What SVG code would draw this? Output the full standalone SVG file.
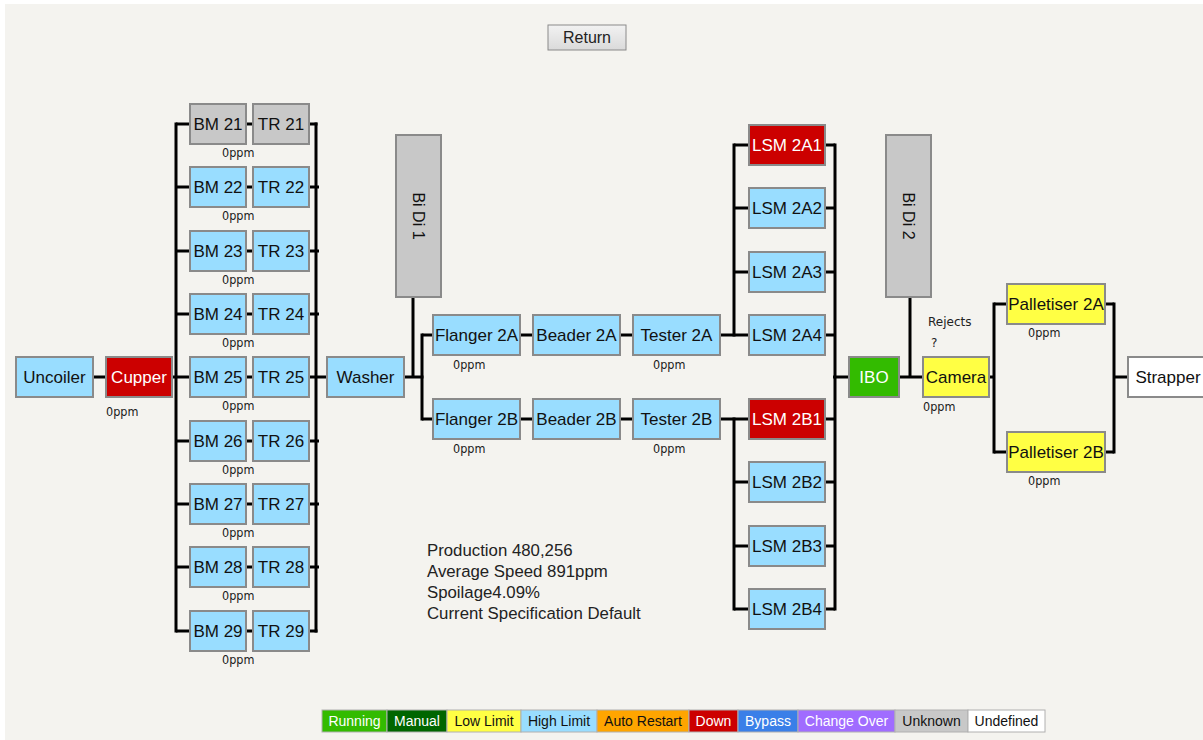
<svg xmlns="http://www.w3.org/2000/svg" width="1203" height="740" viewBox="0 0 1203 740">
  <defs>
    <linearGradient id="btnGrad" x1="0" y1="0" x2="0" y2="1">
      <stop offset="0" stop-color="#f2f2f2"/>
      <stop offset="1" stop-color="#dadada"/>
    </linearGradient>
    <style>
      .node rect { stroke: #8a8a8a; stroke-width: 2; }
      .hl { fill: #99ddff; }
      .down { fill: #cc0000; }
      .run { fill: #33bb00; }
      .low { fill: #ffff44; }
      .unk { fill: #c8c8c8; }
      .undef { fill: #ffffff; }
      .lbl { font-family: "Liberation Sans", Arial, sans-serif; font-size: 17px; fill: #111; text-anchor: middle; }
      .lblw { fill: #ffffff; }
      .ppm { font-family: "DejaVu Sans Condensed", "DejaVu Sans", sans-serif; font-size: 12.5px; fill: #1a1a1a; }
      .note { font-family: "DejaVu Sans", Verdana, sans-serif; font-size: 12px; fill: #222; }
      .info { font-family: "Liberation Sans", Arial, sans-serif; font-size: 16.8px; fill: #222; }
      .conn line { stroke: #000; stroke-width: 3; fill: none; }
      .leg rect { stroke: #b0b0b0; stroke-width: 1; }
      .leg text { font-family: "Liberation Sans", Arial, sans-serif; font-size: 14px; text-anchor: middle; }
    </style>
  </defs>

  <!-- page -->
  <rect x="0" y="0" width="1203" height="740" fill="#ffffff"/>
  <rect x="5" y="4" width="1198" height="736" fill="#f4f3ef"/>

  <!-- return button -->
  <g id="btn-return">
    <rect x="548" y="25" width="78" height="25" fill="url(#btnGrad)" stroke="#8a8a8a" stroke-width="1"/>
    <text x="587" y="43" class="info" text-anchor="middle" style="font-size:16px">Return</text>
  </g>

  <!-- connectors -->
  <g id="connectors" class="conn">
    <line x1="93" y1="377" x2="106" y2="377"/>
    <line x1="172" y1="377" x2="177" y2="377"/>
    <!-- body maker / trimmer buses -->
    <line x1="176" y1="122.5" x2="176" y2="632.5"/>
    <line x1="316" y1="122.5" x2="316" y2="632.5"/>
    <line x1="176" y1="124" x2="190" y2="124"/>
    <line x1="176" y1="187" x2="190" y2="187"/>
    <line x1="176" y1="251" x2="190" y2="251"/>
    <line x1="176" y1="314" x2="190" y2="314"/>
    <line x1="176" y1="377" x2="190" y2="377"/>
    <line x1="176" y1="441" x2="190" y2="441"/>
    <line x1="176" y1="504" x2="190" y2="504"/>
    <line x1="176" y1="567" x2="190" y2="567"/>
    <line x1="176" y1="631" x2="190" y2="631"/>
    <line x1="246" y1="124" x2="253" y2="124"/>
    <line x1="246" y1="187" x2="253" y2="187"/>
    <line x1="246" y1="251" x2="253" y2="251"/>
    <line x1="246" y1="314" x2="253" y2="314"/>
    <line x1="246" y1="377" x2="253" y2="377"/>
    <line x1="246" y1="441" x2="253" y2="441"/>
    <line x1="246" y1="504" x2="253" y2="504"/>
    <line x1="246" y1="567" x2="253" y2="567"/>
    <line x1="246" y1="631" x2="253" y2="631"/>
    <line x1="309" y1="124" x2="317.5" y2="124"/>
    <line x1="309" y1="187" x2="319" y2="187"/>
    <line x1="309" y1="251" x2="319" y2="251"/>
    <line x1="309" y1="314" x2="319" y2="314"/>
    <line x1="309" y1="377" x2="327" y2="377"/>
    <line x1="309" y1="441" x2="319" y2="441"/>
    <line x1="309" y1="504" x2="319" y2="504"/>
    <line x1="309" y1="567" x2="319" y2="567"/>
    <line x1="309" y1="631" x2="317.5" y2="631"/>
    <!-- washer / flangers -->
    <line x1="404" y1="377" x2="423.5" y2="377"/>
    <line x1="413" y1="297" x2="413" y2="377"/>
    <line x1="422" y1="333.5" x2="422" y2="420.5"/>
    <line x1="422" y1="335" x2="433" y2="335"/>
    <line x1="422" y1="419" x2="433" y2="419"/>
    <line x1="520" y1="335" x2="533" y2="335"/>
    <line x1="620" y1="335" x2="633" y2="335"/>
    <line x1="520" y1="419" x2="533" y2="419"/>
    <line x1="620" y1="419" x2="633" y2="419"/>
    <!-- LSM buses -->
    <line x1="720" y1="335" x2="749" y2="335"/>
    <line x1="734" y1="143.5" x2="734" y2="336.5"/>
    <line x1="734" y1="145" x2="749" y2="145"/>
    <line x1="734" y1="208" x2="749" y2="208"/>
    <line x1="734" y1="272" x2="749" y2="272"/>
    <line x1="720" y1="419" x2="749" y2="419"/>
    <line x1="734" y1="417.5" x2="734" y2="610.5"/>
    <line x1="734" y1="482" x2="749" y2="482"/>
    <line x1="734" y1="546" x2="749" y2="546"/>
    <line x1="734" y1="609" x2="749" y2="609"/>
    <line x1="835" y1="143.5" x2="835" y2="610.5"/>
    <line x1="825" y1="145" x2="835" y2="145"/>
    <line x1="825" y1="208" x2="835" y2="208"/>
    <line x1="825" y1="272" x2="835" y2="272"/>
    <line x1="825" y1="335" x2="835" y2="335"/>
    <line x1="825" y1="419" x2="835" y2="419"/>
    <line x1="825" y1="482" x2="835" y2="482"/>
    <line x1="825" y1="546" x2="835" y2="546"/>
    <line x1="825" y1="609" x2="835" y2="609"/>
    <line x1="833" y1="377" x2="849" y2="377"/>
    <!-- IBO / camera / palletisers -->
    <line x1="899" y1="377" x2="923" y2="377"/>
    <line x1="910" y1="297" x2="910" y2="377"/>
    <line x1="989" y1="377" x2="994" y2="377"/>
    <line x1="994" y1="302.5" x2="994" y2="453.5"/>
    <line x1="994" y1="304" x2="1007" y2="304"/>
    <line x1="994" y1="452" x2="1007" y2="452"/>
    <line x1="1105" y1="304" x2="1114" y2="304"/>
    <line x1="1105" y1="452" x2="1114" y2="452"/>
    <line x1="1114" y1="302.5" x2="1114" y2="453.5"/>
    <line x1="1114" y1="377" x2="1128" y2="377"/>
  </g>

  <!-- front end -->
  <g id="uncoiler" class="node"><rect x="16" y="357" width="77" height="40" class="hl"/><text x="54.5" y="383" class="lbl">Uncoiler</text></g>
  <g id="cupper" class="node"><rect x="106" y="357" width="66" height="40" class="down"/><text x="139" y="383" class="lbl lblw">Cupper</text><text x="106" y="416" class="ppm">0ppm</text></g>

  <!-- body makers and trimmers -->
  <g id="bm21" class="node"><rect x="190" y="104" width="56" height="40" class="unk"/><text x="218" y="130" class="lbl">BM 21</text></g>
  <g id="tr21" class="node"><rect x="253" y="104" width="56" height="40" class="unk"/><text x="281" y="130" class="lbl">TR 21</text><text x="222" y="157" class="ppm">0ppm</text></g>
  <g id="bm22" class="node"><rect x="190" y="167" width="56" height="40" class="hl"/><text x="218" y="193" class="lbl">BM 22</text></g>
  <g id="tr22" class="node"><rect x="253" y="167" width="56" height="40" class="hl"/><text x="281" y="193" class="lbl">TR 22</text><text x="222" y="220" class="ppm">0ppm</text></g>
  <g id="bm23" class="node"><rect x="190" y="231" width="56" height="40" class="hl"/><text x="218" y="257" class="lbl">BM 23</text></g>
  <g id="tr23" class="node"><rect x="253" y="231" width="56" height="40" class="hl"/><text x="281" y="257" class="lbl">TR 23</text><text x="222" y="284" class="ppm">0ppm</text></g>
  <g id="bm24" class="node"><rect x="190" y="294" width="56" height="40" class="hl"/><text x="218" y="320" class="lbl">BM 24</text></g>
  <g id="tr24" class="node"><rect x="253" y="294" width="56" height="40" class="hl"/><text x="281" y="320" class="lbl">TR 24</text><text x="222" y="347" class="ppm">0ppm</text></g>
  <g id="bm25" class="node"><rect x="190" y="357" width="56" height="40" class="hl"/><text x="218" y="383" class="lbl">BM 25</text></g>
  <g id="tr25" class="node"><rect x="253" y="357" width="56" height="40" class="hl"/><text x="281" y="383" class="lbl">TR 25</text><text x="222" y="410" class="ppm">0ppm</text></g>
  <g id="bm26" class="node"><rect x="190" y="421" width="56" height="40" class="hl"/><text x="218" y="447" class="lbl">BM 26</text></g>
  <g id="tr26" class="node"><rect x="253" y="421" width="56" height="40" class="hl"/><text x="281" y="447" class="lbl">TR 26</text><text x="222" y="474" class="ppm">0ppm</text></g>
  <g id="bm27" class="node"><rect x="190" y="484" width="56" height="40" class="hl"/><text x="218" y="510" class="lbl">BM 27</text></g>
  <g id="tr27" class="node"><rect x="253" y="484" width="56" height="40" class="hl"/><text x="281" y="510" class="lbl">TR 27</text><text x="222" y="537" class="ppm">0ppm</text></g>
  <g id="bm28" class="node"><rect x="190" y="547" width="56" height="40" class="hl"/><text x="218" y="573" class="lbl">BM 28</text></g>
  <g id="tr28" class="node"><rect x="253" y="547" width="56" height="40" class="hl"/><text x="281" y="573" class="lbl">TR 28</text><text x="222" y="600" class="ppm">0ppm</text></g>
  <g id="bm29" class="node"><rect x="190" y="611" width="56" height="40" class="hl"/><text x="218" y="637" class="lbl">BM 29</text></g>
  <g id="tr29" class="node"><rect x="253" y="611" width="56" height="40" class="hl"/><text x="281" y="637" class="lbl">TR 29</text><text x="222" y="664" class="ppm">0ppm</text></g>

  <!-- washer, accumulator, necking line -->
  <g id="washer" class="node"><rect x="327" y="357" width="77" height="40" class="hl"/><text x="365.5" y="383" class="lbl">Washer</text></g>
  <g id="bidi1" class="node"><rect x="396" y="135" width="45" height="162" class="unk"/><text transform="translate(418.5,216) rotate(90)" x="0" y="6" class="lbl" style="font-size:16px">Bi Di 1</text></g>
  <g id="flanger2a" class="node"><rect x="433" y="315" width="87" height="40" class="hl"/><text x="476.5" y="341" class="lbl">Flanger 2A</text><text x="453" y="369" class="ppm">0ppm</text></g>
  <g id="beader2a" class="node"><rect x="533" y="315" width="87" height="40" class="hl"/><text x="576.5" y="341" class="lbl">Beader 2A</text></g>
  <g id="tester2a" class="node"><rect x="633" y="315" width="87" height="40" class="hl"/><text x="676.5" y="341" class="lbl">Tester 2A</text><text x="653" y="369" class="ppm">0ppm</text></g>
  <g id="flanger2b" class="node"><rect x="433" y="399" width="87" height="40" class="hl"/><text x="476.5" y="425" class="lbl">Flanger 2B</text><text x="453" y="453" class="ppm">0ppm</text></g>
  <g id="beader2b" class="node"><rect x="533" y="399" width="87" height="40" class="hl"/><text x="576.5" y="425" class="lbl">Beader 2B</text></g>
  <g id="tester2b" class="node"><rect x="633" y="399" width="87" height="40" class="hl"/><text x="676.5" y="425" class="lbl">Tester 2B</text><text x="653" y="453" class="ppm">0ppm</text></g>

  <!-- inside spray machines -->
  <g id="lsm2a1" class="node"><rect x="749" y="125" width="76" height="40" class="down"/><text x="787" y="151" class="lbl lblw">LSM 2A1</text></g>
  <g id="lsm2a2" class="node"><rect x="749" y="188" width="76" height="40" class="hl"/><text x="787" y="214" class="lbl">LSM 2A2</text></g>
  <g id="lsm2a3" class="node"><rect x="749" y="252" width="76" height="40" class="hl"/><text x="787" y="278" class="lbl">LSM 2A3</text></g>
  <g id="lsm2a4" class="node"><rect x="749" y="315" width="76" height="40" class="hl"/><text x="787" y="341" class="lbl">LSM 2A4</text></g>
  <g id="lsm2b1" class="node"><rect x="749" y="399" width="76" height="40" class="down"/><text x="787" y="425" class="lbl lblw">LSM 2B1</text></g>
  <g id="lsm2b2" class="node"><rect x="749" y="462" width="76" height="40" class="hl"/><text x="787" y="488" class="lbl">LSM 2B2</text></g>
  <g id="lsm2b3" class="node"><rect x="749" y="526" width="76" height="40" class="hl"/><text x="787" y="552" class="lbl">LSM 2B3</text></g>
  <g id="lsm2b4" class="node"><rect x="749" y="589" width="76" height="40" class="hl"/><text x="787" y="615" class="lbl">LSM 2B4</text></g>

  <!-- end of line -->
  <g id="ibo" class="node"><rect x="849" y="357" width="50" height="40" class="run"/><text x="874" y="383" class="lbl lblw">IBO</text></g>
  <g id="bidi2" class="node"><rect x="886" y="135" width="45" height="162" class="unk"/><text transform="translate(908.5,216) rotate(90)" x="0" y="6" class="lbl" style="font-size:16px">Bi Di 2</text></g>
  <g id="camera" class="node"><rect x="923" y="357" width="66" height="40" class="low"/><text x="956" y="383" class="lbl">Camera</text><text x="923" y="411" class="ppm">0ppm</text>
    <text x="928" y="326" class="note">Rejects</text><text x="931" y="347" class="note">?</text></g>
  <g id="palletiser2a" class="node"><rect x="1007" y="284" width="98" height="40" class="low"/><text x="1056" y="310" class="lbl">Palletiser 2A</text><text x="1028" y="337" class="ppm">0ppm</text></g>
  <g id="palletiser2b" class="node"><rect x="1007" y="432" width="98" height="40" class="low"/><text x="1056" y="458" class="lbl">Palletiser 2B</text><text x="1028" y="485" class="ppm">0ppm</text></g>
  <g id="strapper" class="node"><rect x="1128" y="357" width="80" height="40" class="undef"/><text x="1168" y="383" class="lbl">Strapper</text></g>

  <!-- production summary -->
  <g id="summary" class="info">
    <text x="427" y="556">Production 480,256</text>
    <text x="427" y="577">Average Speed 891ppm</text>
    <text x="427" y="598">Spoilage4.09%</text>
    <text x="427" y="619">Current Specification Default</text>
  </g>

  <!-- status legend -->
  <g id="legend" class="leg">
    <rect x="322" y="710" width="65" height="22" fill="#33bb00"/><text x="354.5" y="726" fill="#ffffff">Running</text>
    <rect x="387" y="710" width="60" height="22" fill="#006600"/><text x="417" y="726" fill="#ffffff">Manual</text>
    <rect x="447" y="710" width="74" height="22" fill="#ffff44"/><text x="484" y="726" fill="#111">Low Limit</text>
    <rect x="521" y="710" width="76" height="22" fill="#99ddff"/><text x="559" y="726" fill="#111">High Limit</text>
    <rect x="597" y="710" width="92" height="22" fill="#ffa500"/><text x="643" y="726" fill="#111">Auto Restart</text>
    <rect x="689" y="710" width="49" height="22" fill="#cc0000"/><text x="713.5" y="726" fill="#ffffff">Down</text>
    <rect x="738" y="710" width="60" height="22" fill="#3a7fe8"/><text x="768" y="726" fill="#ffffff">Bypass</text>
    <rect x="798" y="710" width="97" height="22" fill="#a06cff"/><text x="846.5" y="726" fill="#ffffff">Change Over</text>
    <rect x="895" y="710" width="73" height="22" fill="#c8c8c8"/><text x="931.5" y="726" fill="#111">Unknown</text>
    <rect x="968" y="710" width="77" height="22" fill="#ffffff"/><text x="1006.5" y="726" fill="#111">Undefined</text>
  </g>
</svg>
